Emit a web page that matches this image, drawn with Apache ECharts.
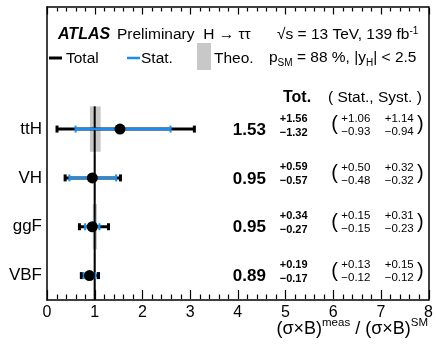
<!DOCTYPE html>
<html><head><meta charset="utf-8">
<script src="https://cdn.jsdelivr.net/npm/echarts@6/dist/echarts.min.js"></script>
<style>html,body{margin:0;padding:0;background:#fff}#c{width:436px;height:348px}</style>
</head><body><div id="c"></div>
<script>
const categories = ['VBF', 'ggF', 'VH', 'ttH'];
const central = [0.89, 0.95, 0.95, 1.53];
const totUp = [0.19, 0.34, 0.59, 1.56];
const totDn = [0.17, 0.27, 0.57, 1.32];
const statUp = [0.13, 0.15, 0.50, 1.06];
const statDn = [0.12, 0.15, 0.48, 0.93];
const systUp = [0.15, 0.31, 0.32, 1.14];
const systDn = [0.12, 0.23, 0.32, 0.94];
const theoLo = [0.98, 0.96, 0.98, 0.90];
const theoHi = [1.02, 1.05, 1.02, 1.125];
const xTickLabels = ['0', '1', '2', '3', '4', '5', '6', '7', '8'];

const FONT = 'Liberation Sans, Arial, Helvetica, sans-serif';
const BLUE = '#1a8ef0';
const f2 = v => v.toFixed(2);
const yCats = categories.concat(['', '']);
const GRID = {left: 47, right: 7, top: 7, bottom: 48};

// tick values: major at labels, minor at fifths
const majorTicks = xTickLabels.map(Number);
const minorTicks = [];
majorTicks.forEach((v, k) => {
  if (k < majorTicks.length - 1) for (let m = 1; m < 5; m++) minorTicks.push(v + m / 5);
});
const tickItems = majorTicks.map(v => [v, 0, 1]).concat(minorTicks.map(v => [v, 0, 0]));

const chart = echarts.init(document.getElementById('c'), null, {renderer: 'canvas'});
const rows = categories.map((c, i) => i);

const baseGraphic = [
  {type: 'text', x: 58, y: 35, style: {text: 'ATLAS', font: 'italic bold 16px ' + FONT, fill: '#000', verticalAlign: 'middle'}},
  {type: 'text', x: 117, y: 35, style: {text: 'Preliminary  H \u2192 \u03c4\u03c4', font: '15.5px ' + FONT, fill: '#000', verticalAlign: 'middle'}},
  {type: 'text', x: 277, y: 35, style: {text: '\u221As = 13 TeV, 139 fb{s|-1}', font: '15.5px ' + FONT, fill: '#000', verticalAlign: 'middle', lineHeight: 18,
    rich: {s: {fontSize: 10, lineHeight: 10, verticalAlign: 'top', fontFamily: FONT}}}},
  {type: 'line', shape: {x1: 49, y1: 58, x2: 62, y2: 58}, style: {stroke: '#000', lineWidth: 3}},
  {type: 'text', x: 66, y: 58.5, style: {text: 'Total', font: '15.5px ' + FONT, fill: '#000', verticalAlign: 'middle'}},
  {type: 'line', shape: {x1: 127, y1: 58, x2: 140, y2: 58}, style: {stroke: BLUE, lineWidth: 2.5}},
  {type: 'text', x: 141, y: 58.5, style: {text: 'Stat.', font: '15.5px ' + FONT, fill: '#000', verticalAlign: 'middle'}},
  {type: 'rect', shape: {x: 197, y: 43, width: 14, height: 27}, style: {fill: '#c8c8c8'}},
  {type: 'text', x: 214, y: 58.5, style: {text: 'Theo.', font: '15.5px ' + FONT, fill: '#000', verticalAlign: 'middle'}},
  {type: 'text', x: 269, y: 58, style: {text: 'p{b|SM} = 88 %, |y{b|H}| < 2.5', font: '15.5px ' + FONT, fill: '#000', verticalAlign: 'middle', lineHeight: 20,
    rich: {b: {fontSize: 10, lineHeight: 10, verticalAlign: 'bottom', fontFamily: FONT}}}},
  {type: 'text', x: 283, y: 97.5, style: {text: 'Tot.', font: 'bold 16px ' + FONT, fill: '#000', verticalAlign: 'middle'}},
  {type: 'text', x: 328, y: 98, style: {text: '( Stat., Syst. )', font: '15.5px ' + FONT, fill: '#000', verticalAlign: 'middle'}},
  {type: 'text', x: 428, y: 329, style: {text: '(\u03c3\u00d7B){s|meas} / (\u03c3\u00d7B){s|SM}', font: '18px ' + FONT, fill: '#000', align: 'right', verticalAlign: 'middle', lineHeight: 24,
    rich: {s: {fontSize: 11.5, lineHeight: 12, verticalAlign: 'top', fontFamily: FONT}}}}
];

const option = {
  animation: false,
  backgroundColor: '#fff',
  grid: {left: GRID.left, right: GRID.right, top: GRID.top, bottom: GRID.bottom, show: false, containLabel: false},
  xAxis: [{
    type: 'value', min: 0, max: 8, interval: 1, position: 'bottom',
    axisLine: {show: true, onZero: false, lineStyle: {color: '#000', width: 1.5}},
    axisTick: {show: false},
    axisLabel: {show: true, margin: 5, color: '#000', fontSize: 16, fontFamily: FONT,
      formatter: v => xTickLabels[Math.round(v)]},
    splitLine: {show: false}
  }, {
    type: 'value', min: 0, max: 8, interval: 1, position: 'top',
    axisLine: {show: true, onZero: false, lineStyle: {color: '#000', width: 1.5}},
    axisTick: {show: false},
    axisLabel: {show: false},
    splitLine: {show: false}
  }],
  yAxis: [{
    type: 'category', data: yCats, boundaryGap: true, position: 'left',
    axisLine: {show: true, onZero: false, lineStyle: {color: '#000', width: 1.5}},
    axisTick: {show: false},
    axisLabel: {show: true, margin: 5, color: '#000', fontSize: 17, fontFamily: FONT},
    splitLine: {show: false}
  }, {
    type: 'category', data: yCats, boundaryGap: true, position: 'right',
    axisLine: {show: true, onZero: false, lineStyle: {color: '#000', width: 1.5}},
    axisTick: {show: false},
    axisLabel: {show: false},
    splitLine: {show: false}
  }],
  graphic: baseGraphic,
  series: [
    {
      type: 'custom', name: 'ticks', xAxisIndex: 0, yAxisIndex: 0, z: 20, clip: false, silent: true,
      data: tickItems,
      renderItem: (params, api) => {
        const v = api.value(0);
        const major = api.value(2) === 1;
        const band = api.size([0, 1])[1];
        const c0 = api.coord([v, 0]);
        const cTop = api.coord([v, yCats.length - 1]);
        const x = Math.round(c0[0]) + 0.5;
        const yb = c0[1] + band / 2 - 1;
        const yt = cTop[1] - band / 2 + 1;
        const lb = major ? 9 : 4.5, lt = major ? 6.5 : 3.5;
        return {type: 'group', children: [
          {type: 'rect', shape: {x: x - 0.6, y: yb - lb, width: 1.2, height: lb}, style: {fill: '#000'}},
          {type: 'rect', shape: {x: x - 0.6, y: yt, width: 1.2, height: lt}, style: {fill: '#000'}}
        ]};
      }
    },
    {
      type: 'custom', name: 'theo', xAxisIndex: 0, yAxisIndex: 0, z: 1,
      data: rows.map(i => [i, theoLo[i], theoHi[i]]),
      renderItem: (params, api) => {
        const i = api.value(0);
        const h = api.size([0, 1])[1] * 0.93;
        const p1 = api.coord([api.value(1), i]);
        const p2 = api.coord([api.value(2), i]);
        return {type: 'rect', shape: {x: p1[0], y: p1[1] - h / 2, width: p2[0] - p1[0], height: h}, style: {fill: '#c8c8c8'}};
      }
    },
    {
      type: 'custom', name: 'sm', xAxisIndex: 0, yAxisIndex: 0, z: 2,
      data: [[1]],
      renderItem: (params, api) => {
        const band = api.size([0, 1])[1];
        const a = api.coord([api.value(0), categories.length - 1]);
        const b = api.coord([api.value(0), 0]);
        return {type: 'line', shape: {x1: a[0], y1: a[1] - band * 0.465, x2: b[0], y2: b[1] + band / 2}, style: {stroke: '#000', lineWidth: 2}};
      }
    },
    {
      type: 'custom', name: 'total', xAxisIndex: 0, yAxisIndex: 0, z: 3,
      data: rows.map(i => [i, central[i] - totDn[i], central[i] + totUp[i]]),
      renderItem: (params, api) => {
        const i = api.value(0);
        const a = api.coord([api.value(1), i]);
        const b = api.coord([api.value(2), i]);
        const y = a[1];
        return {type: 'group', children: [
          {type: 'line', shape: {x1: a[0], y1: y, x2: b[0], y2: y}, style: {stroke: '#000', lineWidth: 3}},
          {type: 'line', shape: {x1: a[0], y1: y - 3.5, x2: a[0], y2: y + 3.5}, style: {stroke: '#000', lineWidth: 3}},
          {type: 'line', shape: {x1: b[0], y1: y - 3.5, x2: b[0], y2: y + 3.5}, style: {stroke: '#000', lineWidth: 3}}
        ]};
      }
    },
    {
      type: 'custom', name: 'stat', xAxisIndex: 0, yAxisIndex: 0, z: 4,
      data: rows.map(i => [i, central[i] - statDn[i], central[i] + statUp[i]]),
      renderItem: (params, api) => {
        const i = api.value(0);
        const a = api.coord([api.value(1), i]);
        const b = api.coord([api.value(2), i]);
        const y = a[1];
        return {type: 'group', children: [
          {type: 'line', shape: {x1: a[0], y1: y, x2: b[0], y2: y}, style: {stroke: BLUE, lineWidth: 2.5}},
          {type: 'line', shape: {x1: a[0], y1: y - 3.5, x2: a[0], y2: y + 3.5}, style: {stroke: BLUE, lineWidth: 2}},
          {type: 'line', shape: {x1: b[0], y1: y - 3.5, x2: b[0], y2: y + 3.5}, style: {stroke: BLUE, lineWidth: 2}}
        ]};
      }
    },
    {
      type: 'scatter', name: 'central', xAxisIndex: 0, yAxisIndex: 0, z: 5,
      symbol: 'circle', symbolSize: 11, itemStyle: {color: '#000', opacity: 1},
      data: rows.map(i => [central[i], i])
    },
    {
      type: 'custom', name: 'texts', xAxisIndex: 0, yAxisIndex: 0, z: 6, clip: false,
      data: rows.map(i => [i]),
      renderItem: (params, api) => {
        const i = api.value(0);
        const X = x => api.coord([x, i])[0];
        const y = api.coord([0, i])[1];
        const t = (x, dy, text, font, align) => ({type: 'text', x: X(x), y: y + dy,
          style: {text: text, font: font + ' ' + FONT, fill: '#000', align: align || 'left', verticalAlign: 'middle'}});
        return {type: 'group', children: [
          t(4.59, 1, f2(central[i]), 'bold 17px', 'right'),
          t(4.88, -10.5, '+' + f2(totUp[i]), 'bold 11px'),
          t(4.88, 3.5, '\u2212' + f2(totDn[i]), 'bold 11px'),
          t(5.96, -4.5, '(', '20px'),
          t(6.17, -10.5, '+' + f2(statUp[i]), '11.5px'),
          t(6.17, 2.5, '\u2212' + f2(statDn[i]), '11.5px'),
          t(7.08, -10.5, '+' + f2(systUp[i]), '11.5px'),
          t(7.08, 2.5, '\u2212' + f2(systDn[i]), '11.5px'),
          t(7.76, -4.5, ')', '20px')
        ]};
      }
    }
  ]
};
chart.setOption(option);
</script></body></html>
